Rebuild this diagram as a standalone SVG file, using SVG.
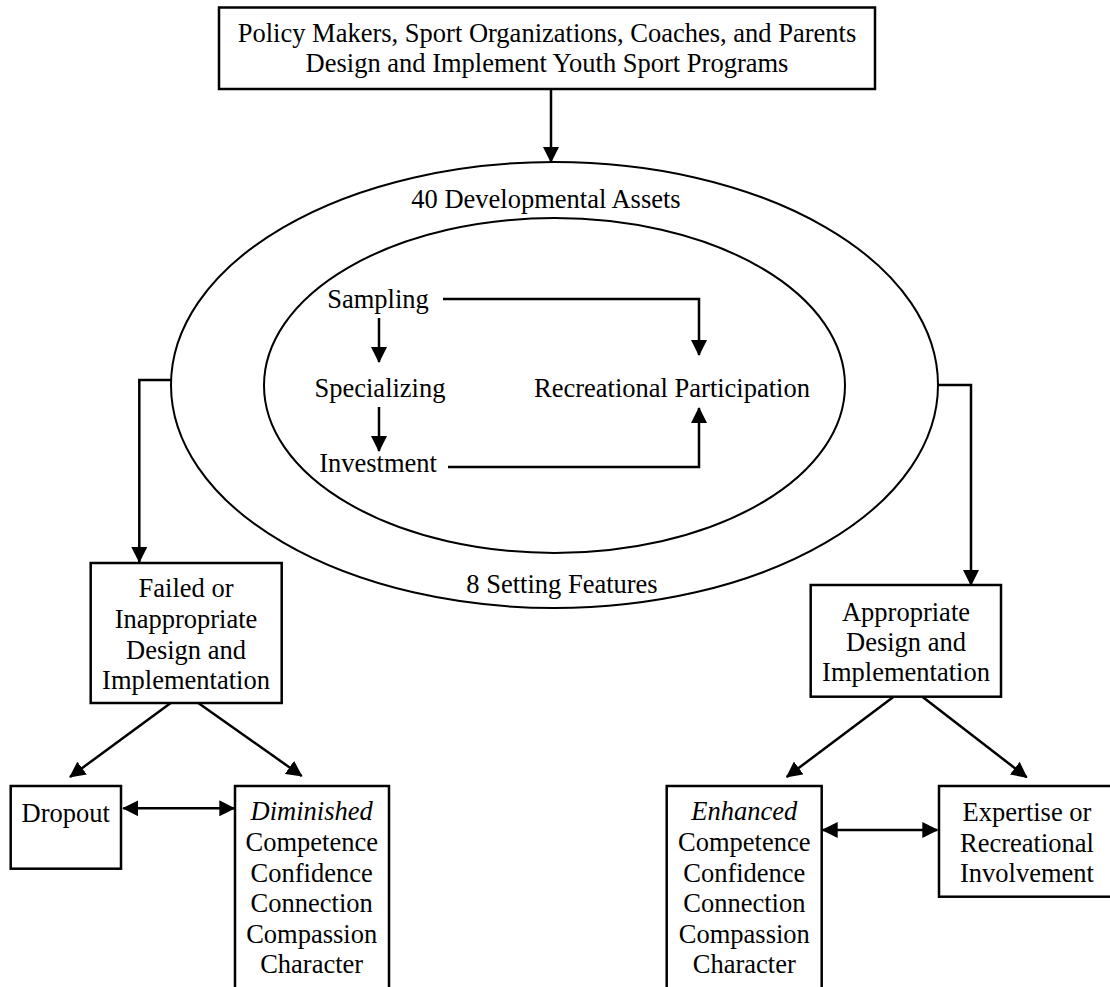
<svg xmlns="http://www.w3.org/2000/svg" width="1110" height="987" viewBox="0 0 1110 987">
<style>
  text { font-family: "Liberation Serif", "Times New Roman", serif; font-size: 26.5px; fill: #000; text-anchor: middle; }
  .it { font-style: italic; }
  .box { fill: #fff; stroke: #000; stroke-width: 2.5; }
  .ell { fill: none; stroke: #000; stroke-width: 2; }
  .conn { fill: none; stroke: #000; stroke-width: 2.5; }
</style>
<defs>
  <marker id="ah" viewBox="0 0 16 16" markerWidth="16" markerHeight="16" refX="15" refY="8" orient="auto-start-reverse" markerUnits="userSpaceOnUse">
    <path d="M0,0 L16,8 L0,16 z" fill="#000"/>
  </marker>
</defs>
<rect x="0" y="0" width="1110" height="987" fill="#fff"/>

<g id="policy">
  <rect class="box" x="219" y="7.5" width="656" height="81.5"/>
  <text x="547" y="41.7">Policy Makers, Sport Organizations, Coaches, and Parents</text>
  <text x="547" y="72">Design and Implement Youth Sport Programs</text>
</g>

<g id="assets">
  <ellipse class="ell" cx="554.5" cy="385" rx="383.5" ry="223"/>
  <text x="546" y="208">40 Developmental Assets</text>
  <text x="562" y="593">8 Setting Features</text>
</g>

<g id="pathways">
  <ellipse class="ell" cx="554.5" cy="385.5" rx="290.5" ry="167.5"/>
</g>

<g id="sampling"><text x="378" y="308">Sampling</text></g>
<g id="specializing"><text x="380" y="397">Specializing</text></g>
<g id="investment"><text x="378" y="472">Investment</text></g>
<g id="recreational"><text x="672" y="397">Recreational Participation</text></g>

<g id="failed">
  <rect class="box" x="90.7" y="563" width="191" height="140"/>
  <text x="186" y="597">Failed or</text>
  <text x="186" y="628">Inappropriate</text>
  <text x="186" y="659">Design and</text>
  <text x="186" y="689">Implementation</text>
</g>

<g id="appropriate">
  <rect class="box" x="810.7" y="585" width="190.3" height="111.7"/>
  <text x="906" y="620.5">Appropriate</text>
  <text x="906" y="651">Design and</text>
  <text x="906" y="681">Implementation</text>
</g>

<g id="dropout">
  <rect class="box" x="10.7" y="786" width="110.3" height="82.7"/>
  <text x="65.7" y="821.7">Dropout</text>
</g>

<g id="diminished">
  <rect class="box" x="235" y="786" width="154" height="220"/>
  <text class="it" x="311.7" y="820">Diminished</text>
  <text x="311.7" y="850.5">Competence</text>
  <text x="311.7" y="881.5">Confidence</text>
  <text x="311.7" y="912">Connection</text>
  <text x="311.7" y="942.5">Compassion</text>
  <text x="311.7" y="973">Character</text>
</g>

<g id="enhanced">
  <rect class="box" x="666.7" y="786" width="155" height="220"/>
  <text class="it" x="744.3" y="820">Enhanced</text>
  <text x="744.3" y="850.5">Competence</text>
  <text x="744.3" y="881.5">Confidence</text>
  <text x="744.3" y="912">Connection</text>
  <text x="744.3" y="942.5">Compassion</text>
  <text x="744.3" y="973">Character</text>
</g>

<g id="expertise">
  <rect class="box" x="939" y="786" width="190" height="110.7"/>
  <text x="1027" y="821">Expertise or</text>
  <text x="1027" y="851.7">Recreational</text>
  <text x="1027" y="882.3">Involvement</text>
</g>

<g id="connectors">
  <path class="conn" d="M551,89 V162" marker-end="url(#ah)"/>
  <path class="conn" d="M171,380 H139.3 V562" marker-end="url(#ah)"/>
  <path class="conn" d="M938,385 H971 V585" marker-end="url(#ah)"/>
  <path class="conn" d="M443,299 H699 V355" marker-end="url(#ah)"/>
  <path class="conn" d="M448,467 H699 V408" marker-end="url(#ah)"/>
  <path class="conn" d="M379,318 V362" marker-end="url(#ah)"/>
  <path class="conn" d="M379,407 V451" marker-end="url(#ah)"/>
  <path class="conn" d="M170.7,703 L70,777" marker-end="url(#ah)"/>
  <path class="conn" d="M198.3,703 L301.7,776" marker-end="url(#ah)"/>
  <path class="conn" d="M893.3,697 L786.7,777" marker-end="url(#ah)"/>
  <path class="conn" d="M922.7,697 L1026.7,777.3" marker-end="url(#ah)"/>
  <path class="conn" d="M123.3,808.3 H234.3" marker-start="url(#ah)" marker-end="url(#ah)"/>
  <path class="conn" d="M822.7,830 H937.3" marker-start="url(#ah)" marker-end="url(#ah)"/>
</g>
</svg>
